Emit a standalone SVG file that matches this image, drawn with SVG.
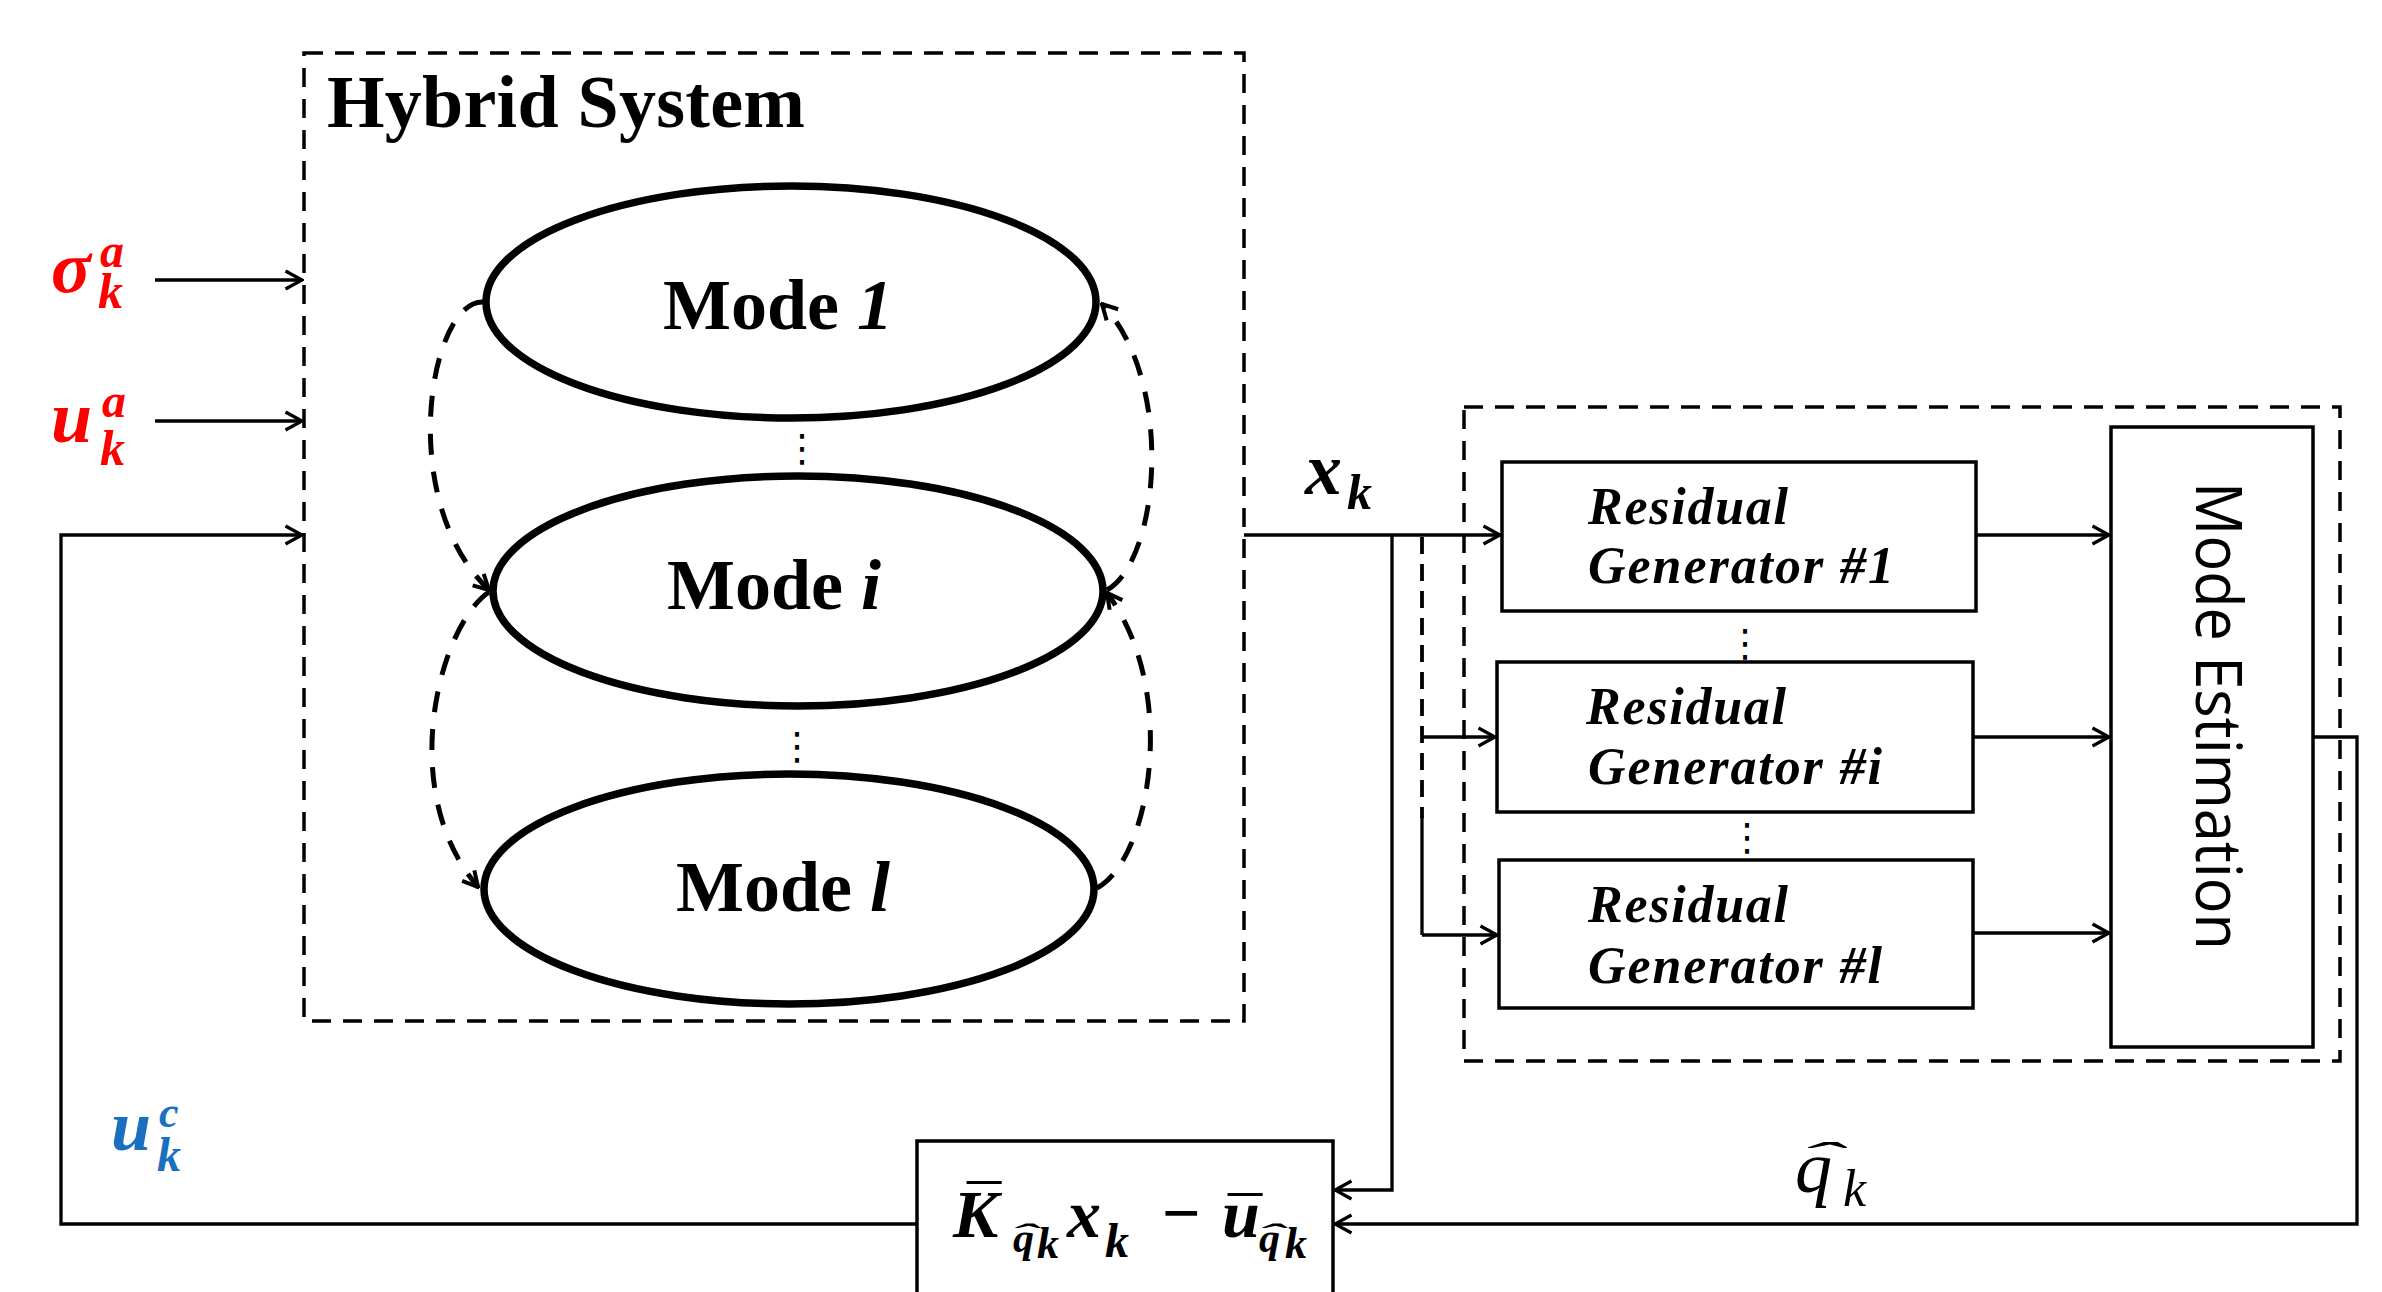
<svg xmlns="http://www.w3.org/2000/svg" width="2382" height="1292" viewBox="0 0 2382 1292">
<style>
.serif{font-family:'Liberation Serif','Times New Roman',serif}
.bi{font-weight:bold;font-style:italic}
.b{font-weight:bold}
.it{font-style:italic}
.sans{font-family:'Open Sans','Noto Sans','DejaVu Sans',sans-serif}
.line{fill:none;stroke:#000;stroke-width:3.3}
.dline{fill:none;stroke:#000;stroke-width:3.8;stroke-dasharray:17 10}
.box{fill:#fff;stroke:#000;stroke-width:3.5}
.frame{fill:none;stroke:#000;stroke-width:3.5;stroke-dasharray:19 12}
.mode{fill:#fff;stroke:#000;stroke-width:7.5}
.trans{fill:none;stroke:#000;stroke-width:5;stroke-dasharray:21 17}
.dots{font-family:'DejaVu Sans',sans-serif;font-size:38px;text-anchor:middle}
.red{fill:#ff0000}
.blue{fill:#1a6fc0}
</style>
<defs>
<marker id="arr" markerUnits="userSpaceOnUse" viewBox="0 0 20 22" refX="18.5" refY="11" markerWidth="20" markerHeight="22" orient="auto">
<path d="M2,2 L18.5,11 L2,20" fill="none" stroke="#000" stroke-width="3.3"/>
</marker>
<marker id="arrd" markerUnits="userSpaceOnUse" viewBox="0 0 20 22" refX="18" refY="11" markerWidth="20" markerHeight="22" orient="auto">
<path d="M3,3 L18,11 L3,19" fill="none" stroke="#000" stroke-width="4"/>
</marker>
</defs>
<rect width="2382" height="1292" fill="#fff"/>

<!-- hybrid system frame -->
<g id="hybrid-system">
<rect class="frame" x="304" y="53" width="940" height="968"/>
<text class="serif b" x="327" y="127" font-size="74" textLength="478">Hybrid System</text>
</g>

<!-- discrete modes -->
<g id="mode-1">
<ellipse class="mode" cx="791" cy="302" rx="305" ry="116"/>
<text class="serif b" x="663" y="329" font-size="72">Mode <tspan class="it">1</tspan></text>
</g>
<g id="mode-i">
<ellipse class="mode" cx="798" cy="591" rx="305" ry="115"/>
<text class="serif b" x="667" y="609" font-size="72">Mode <tspan class="it">i</tspan></text>
</g>
<g id="mode-l">
<ellipse class="mode" cx="789" cy="889" rx="305" ry="115"/>
<text class="serif b" x="676" y="911" font-size="72">Mode <tspan class="it">l</tspan></text>
</g>
<text class="dots" x="802" y="461">⋮</text>
<text class="dots" x="797" y="759">⋮</text>

<!-- mode transitions -->
<g id="transitions">
<path class="trans" d="M483,302 C430,300 395,500 489,590" marker-end="url(#arrd)"/>
<path class="trans" d="M489,592 C440,625 395,790 478,887" marker-end="url(#arrd)"/>
<path class="trans" d="M1107,590 C1160,560 1175,380 1102,304" marker-end="url(#arrd)"/>
<path class="trans" d="M1097,888 C1150,860 1180,690 1107,593" marker-end="url(#arrd)"/>
</g>

<!-- mode estimator frame -->
<g id="estimator">
<rect class="frame" x="1464" y="407" width="876" height="654"/>
</g>
<g id="rg-1">
<rect class="box" x="1502" y="462" width="474" height="149"/>
<text class="serif bi" x="1588" y="524" font-size="52" textLength="200">Residual</text>
<text class="serif bi" x="1588" y="583" font-size="52" textLength="306">Generator #1</text>
</g>
<g id="rg-i">
<rect class="box" x="1497" y="662" width="476" height="150"/>
<text class="serif bi" x="1586" y="724" font-size="52" textLength="200">Residual</text>
<text class="serif bi" x="1588" y="784" font-size="52" textLength="294">Generator #i</text>
</g>
<g id="rg-l">
<rect class="box" x="1499" y="860" width="474" height="148"/>
<text class="serif bi" x="1588" y="922" font-size="52" textLength="200">Residual</text>
<text class="serif bi" x="1588" y="983" font-size="52" textLength="294">Generator #l</text>
</g>
<text class="dots" x="1745" y="656">⋮</text>
<text class="dots" x="1747" y="850">⋮</text>
<g id="mode-estimation">
<rect class="box" x="2111" y="427" width="202" height="620"/>
<text class="sans" transform="translate(2196,482) rotate(90)" font-size="64" textLength="468" lengthAdjust="spacingAndGlyphs">Mode Estimation</text>
</g>

<!-- controller: K_q x_k - u_q -->
<g id="controller">
<rect class="box" x="917" y="1141" width="416" height="180"/>
<g class="serif bi">
<text font-size="68"><tspan x="953" y="1237">K</tspan><tspan x="1013" y="1252" font-size="42">q</tspan><tspan x="1037" y="1258" font-size="44">k</tspan><tspan x="1067" y="1237">x</tspan><tspan x="1105" y="1257" font-size="48">k</tspan><tspan x="1162" y="1236" font-style="normal">−</tspan><tspan x="1222" y="1237">u</tspan><tspan x="1259" y="1252" font-size="42">q</tspan><tspan x="1285" y="1258" font-size="44">k</tspan></text>
<text x="979" y="1232" font-size="68" text-anchor="middle">¯</text>
<text x="1240" y="1244" font-size="68" text-anchor="middle">¯</text>
<text transform="translate(1024,1244) scale(2.2,0.8)" font-size="36" text-anchor="middle">ˆ</text>
<text transform="translate(1271,1244) scale(2.2,0.8)" font-size="36" text-anchor="middle">ˆ</text>
</g>
</g>

<!-- signal labels -->
<g class="serif bi">
<text class="red" font-size="74"><tspan x="51" y="292">σ</tspan><tspan x="100" y="267" font-size="48">a</tspan><tspan x="98" y="308" font-size="50">k</tspan></text>
<text class="red" font-size="74"><tspan x="51" y="442">u</tspan><tspan x="102" y="417" font-size="48">a</tspan><tspan x="100" y="465" font-size="50">k</tspan></text>
<text class="blue" font-size="72"><tspan x="111" y="1150">u</tspan><tspan x="159" y="1127" font-size="44">c</tspan><tspan x="157" y="1171" font-size="48">k</tspan></text>
<text font-size="74"><tspan x="1305" y="494">x</tspan><tspan x="1347" y="509" font-size="50">k</tspan></text>
</g>
<g class="serif it">
<text font-size="74"><tspan x="1795" y="1192">q</tspan><tspan x="1843" y="1206" font-size="52">k</tspan></text>
<text transform="translate(1819,1170) scale(3.4,1)" font-size="40" text-anchor="middle">ˆ</text>
</g>

<!-- signal connectors -->
<g id="connectors">
<path class="line" d="M155,280 H302" marker-end="url(#arr)"/>
<path class="line" d="M155,421 H302" marker-end="url(#arr)"/>
<path class="line" d="M917,1224 H61 V535 H302" marker-end="url(#arr)"/>
<path class="line" d="M1244,535 H1500" marker-end="url(#arr)"/>
<path class="line" d="M1392,535 V1190 H1335" marker-end="url(#arr)"/>
<path class="dline" d="M1422,537 V818"/>
<path class="line" d="M1422,816 V935"/>
<path class="line" d="M1422,737 H1495" marker-end="url(#arr)"/>
<path class="line" d="M1422,935 H1497" marker-end="url(#arr)"/>
<path class="line" d="M1976,535 H2109" marker-end="url(#arr)"/>
<path class="line" d="M1973,737 H2109" marker-end="url(#arr)"/>
<path class="line" d="M1973,933 H2109" marker-end="url(#arr)"/>
<path class="line" d="M2313,737 H2357 V1224 H1335" marker-end="url(#arr)"/>
</g>
</svg>
